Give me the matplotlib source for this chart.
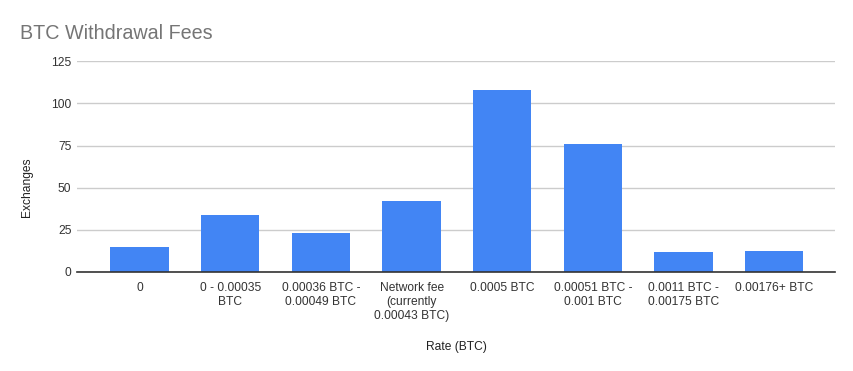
import matplotlib
matplotlib.use("Agg")
import matplotlib.pyplot as plt
import numpy as np

categories = ["0", "0 - 0.00035\nBTC", "0.00036 BTC -\n0.00049 BTC",
              "Network fee\n(currently\n0.00043 BTC)", "0.0005 BTC",
              "0.00051 BTC -\n0.001 BTC", "0.0011 BTC -\n0.00175 BTC", "0.00176+ BTC"]
exchanges = [15, 34, 23, 42, 108, 76, 12, 12.5]
yticks = [0, 25, 50, 75, 100, 125]

plt.rcParams['font.family'] = ['Liberation Sans', 'DejaVu Sans']

W, H = 854, 371
fig = plt.figure(figsize=(W / 100, H / 100), dpi=100)
ax = fig.add_axes([77 / W, 1 - 272 / H, (835 - 77) / W, (272 - 61.3) / H])

x = np.arange(len(categories))
ax.bar(x, exchanges, width=0.645, color="#4285F4", zorder=3)

ax.set_xlim(-0.69, len(categories) - 1 + 0.67)
ax.set_ylim(0, 125)
ax.set_yticks(yticks)
ax.set_yticklabels([str(t) for t in yticks])
ax.set_xticks(x)
ax.set_xticklabels(categories, linespacing=1.22)

ax.grid(axis="y", color="#cccccc", linewidth=1, zorder=0)
for s in ["top", "right", "left"]:
    ax.spines[s].set_visible(False)
ax.spines["bottom"].set_color("#333333")
ax.spines["bottom"].set_linewidth(1.2)
ax.spines["bottom"].set_zorder(4)
ax.tick_params(axis="both", length=0, labelsize=8.64, colors="#333333")
ax.tick_params(axis="y", pad=4)
ax.tick_params(axis="x", pad=7.5)

fig.text(20 / W, 1 - 39 / H, "BTC Withdrawal Fees", fontsize=14.2, color="#757575",
         ha="left", va="baseline")
fig.text(456 / W, 1 - 347 / H, "Rate (BTC)", fontsize=8.64, color="#222222",
         ha="center", va="center")
fig.text(27 / W, 1 - 187 / H, "Exchanges", fontsize=8.64, color="#222222",
         ha="center", va="center", rotation=90)

fig.savefig("out.png", dpi=100)
